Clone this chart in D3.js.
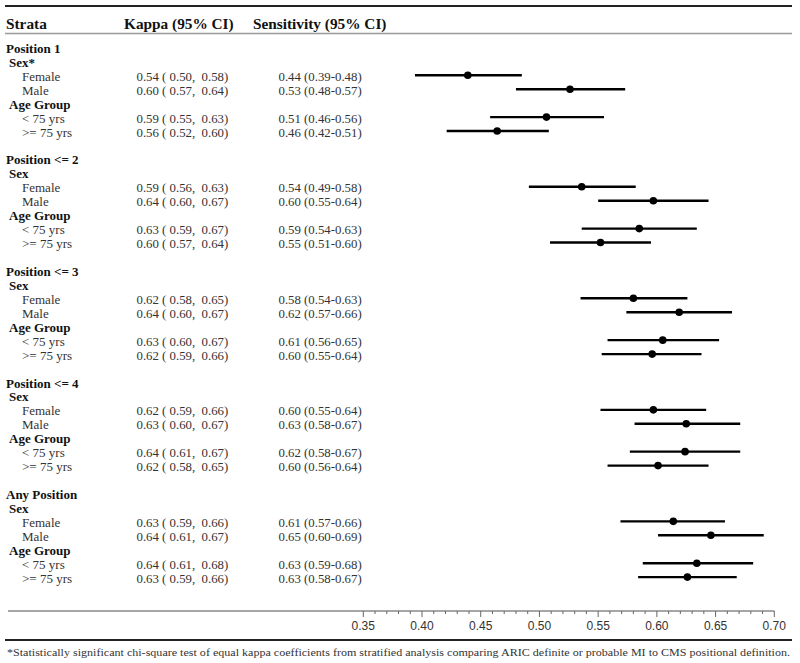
<!DOCTYPE html>
<html><head><meta charset="utf-8">
<script src="https://cdn.jsdelivr.net/npm/d3@7"></script>
<style>body{margin:0;background:#fff}svg{display:block}text{white-space:pre}</style>
</head><body>
<svg id="c" width="800" height="663"></svg>
<script>
// Data
const positions = ["Position 1", "Position <= 2", "Position <= 3", "Position <= 4", "Any Position"];
const sexLabels = ["Sex*", "Sex", "Sex", "Sex", "Sex"];
const subgroups = ["Female", "Male", "< 75 yrs", ">= 75 yrs"];
// kappa [est, lo, hi] per position x subgroup (printed)
const kappa = [
  [[0.54,0.50,0.58],[0.60,0.57,0.64],[0.59,0.55,0.63],[0.56,0.52,0.60]],
  [[0.59,0.56,0.63],[0.64,0.60,0.67],[0.63,0.59,0.67],[0.60,0.57,0.64]],
  [[0.62,0.58,0.65],[0.64,0.60,0.67],[0.63,0.60,0.67],[0.62,0.59,0.66]],
  [[0.62,0.59,0.66],[0.63,0.60,0.67],[0.64,0.61,0.67],[0.62,0.58,0.65]],
  [[0.63,0.59,0.66],[0.64,0.61,0.67],[0.64,0.61,0.68],[0.63,0.59,0.66]]
];
// sensitivity [est, lo, hi] (printed)
const sensitivity = [
  [[0.44,0.39,0.48],[0.53,0.48,0.57],[0.51,0.46,0.56],[0.46,0.42,0.51]],
  [[0.54,0.49,0.58],[0.60,0.55,0.64],[0.59,0.54,0.63],[0.55,0.51,0.60]],
  [[0.58,0.54,0.63],[0.62,0.57,0.66],[0.61,0.56,0.65],[0.60,0.55,0.64]],
  [[0.60,0.55,0.64],[0.63,0.58,0.67],[0.62,0.58,0.67],[0.60,0.56,0.64]],
  [[0.61,0.57,0.66],[0.65,0.60,0.69],[0.63,0.59,0.68],[0.63,0.58,0.67]]
];
// sensitivity as plotted [est, lo, hi]
const sensPlot = [
  [[0.439,0.394,0.485],[0.526,0.480,0.573],[0.506,0.458,0.555],[0.464,0.421,0.508]],
  [[0.536,0.491,0.582],[0.597,0.550,0.644],[0.585,0.536,0.634],[0.552,0.509,0.595]],
  [[0.580,0.535,0.626],[0.619,0.574,0.664],[0.605,0.558,0.653],[0.596,0.553,0.638]],
  [[0.597,0.552,0.642],[0.625,0.581,0.671],[0.624,0.577,0.671],[0.601,0.558,0.644]],
  [[0.614,0.569,0.658],[0.646,0.601,0.691],[0.634,0.588,0.682],[0.626,0.584,0.668]]
];
const headers = ["Strata", "Kappa (95% CI)", "Sensitivity (95% CI)"];
const axisTicks = [0.35,0.40,0.45,0.50,0.55,0.60,0.65,0.70];
const footnote = "*Statistically significant chi-square test of equal kappa coefficients from stratified analysis comparing ARIC definite or probable MI to CMS positional definition.";

const svg = d3.select("#c");
const serif = "'Liberation Serif','Times New Roman',serif";
const sans = "'Liberation Sans',Arial,sans-serif";
const f2 = d3.format(".2f");

// Build rows
const rows = [];
positions.forEach((p, gi) => {
  rows.push({type: "pos", label: p, g: gi});
  rows.push({type: "cat", label: sexLabels[gi], g: gi});
  for (let s = 0; s < 2; s++) rows.push({type: "item", label: subgroups[s], k: kappa[gi][s], se: sensitivity[gi][s], sp: sensPlot[gi][s], g: gi});
  rows.push({type: "cat", label: "Age Group", g: gi});
  for (let s = 2; s < 4; s++) rows.push({type: "item", label: subgroups[s], k: kappa[gi][s], se: sensitivity[gi][s], sp: sensPlot[gi][s], g: gi});
  rows.push({type: "blank", g: gi});
});
rows.pop();
rows.forEach((r, i) => r.i = i);

const y = d3.scaleLinear().domain([0, 1]).range([47.4, 47.4 + 13.94]);
const x = d3.scaleLinear().domain([0.35, 0.70]).range([363.3, 774.3]);

// top and header lines
svg.append("line").attr("x1", 5).attr("x2", 792).attr("y1", 6).attr("y2", 6).attr("stroke", "#222").attr("stroke-width", 2.2);
svg.append("line").attr("x1", 5).attr("x2", 792).attr("y1", 33.5).attr("y2", 33.5).attr("stroke", "#999").attr("stroke-width", 1.5);

const headX = [6, 124, 253];
svg.selectAll("text.head").data(headers).join("text").attr("class", "head")
  .attr("x", (d, i) => headX[i]).attr("y", 24).attr("dy", "0.35em")
  .attr("font-family", serif).attr("font-weight", "bold").attr("font-size", 15.3).attr("fill", "#111")
  .text(d => d);

const labelX = {pos: 6, cat: 9, item: 22};
const textRows = rows.filter(r => r.type !== "blank");
svg.selectAll("text.lab").data(textRows).join("text").attr("class", "lab")
  .attr("x", d => labelX[d.type]).attr("y", d => y(d.i) + 1).attr("dy", "0.35em")
  .attr("font-family", serif).attr("font-size", 13)
  .attr("font-weight", d => d.type === "item" ? "normal" : "bold")
  .attr("fill", d => d.type === "item" ? "#333" : "#111")
  .text(d => d.label);

const items = rows.filter(r => r.type === "item");
svg.selectAll("text.kap").data(items).join("text").attr("class", "kap")
  .attr("x", 136.5).attr("y", d => y(d.i) + 1).attr("dy", "0.35em")
  .attr("font-family", serif).attr("font-size", 12.8).attr("fill", "#333")
  .text(d => `${f2(d.k[0])} ( ${f2(d.k[1])},  ${f2(d.k[2])})`);
svg.selectAll("text.sen").data(items).join("text").attr("class", "sen")
  .attr("x", 278.5).attr("y", d => y(d.i) + 1).attr("dy", "0.35em")
  .attr("font-family", serif).attr("font-size", 12.8).attr("fill", "#333")
  .text(d => `${f2(d.se[0])} (${f2(d.se[1])}-${f2(d.se[2])})`);

// CI lines and points
svg.selectAll("line.ci").data(items).join("line").attr("class", "ci")
  .attr("x1", d => x(d.sp[1])).attr("x2", d => x(d.sp[2]))
  .attr("y1", d => y(d.i)).attr("y2", d => y(d.i))
  .attr("stroke", "#000").attr("stroke-width", 2.4);
svg.selectAll("circle.pt").data(items).join("circle").attr("class", "pt")
  .attr("cx", d => x(d.sp[0])).attr("cy", d => y(d.i)).attr("r", 3.8).attr("fill", "#000");

// axis
const axisY = 611;
svg.append("line").attr("x1", 8).attr("x2", x(0.70)).attr("y1", axisY).attr("y2", axisY).attr("stroke", "#888").attr("stroke-width", 1.3);
const minor = d3.range(35, 71).map(v => v / 100);
svg.selectAll("line.mt").data(minor).join("line").attr("class", "mt")
  .attr("x1", d => x(d)).attr("x2", d => x(d)).attr("y1", axisY).attr("y2", d => axisTicks.some(t => Math.abs(t - d) < 1e-6) ? axisY + 6 : axisY + 3)
  .attr("stroke", "#666").attr("stroke-width", 1);
svg.selectAll("text.tk").data(axisTicks).join("text").attr("class", "tk")
  .attr("x", d => x(d)).attr("y", 626).attr("dy", "0.35em").attr("text-anchor", "middle")
  .attr("font-family", sans).attr("font-size", 12).attr("fill", "#333")
  .text(d => f2(d));

svg.append("line").attr("x1", 5).attr("x2", 792).attr("y1", 640).attr("y2", 640).attr("stroke", "#222").attr("stroke-width", 2);
svg.append("text").attr("x", 7).attr("y", 652).attr("dy", "0.35em")
  .attr("font-family", serif).attr("font-size", 10.5).attr("fill", "#333")
  .attr("textLength", 783).attr("lengthAdjust", "spacingAndGlyphs")
  .text(footnote);
</script>
</body></html>
